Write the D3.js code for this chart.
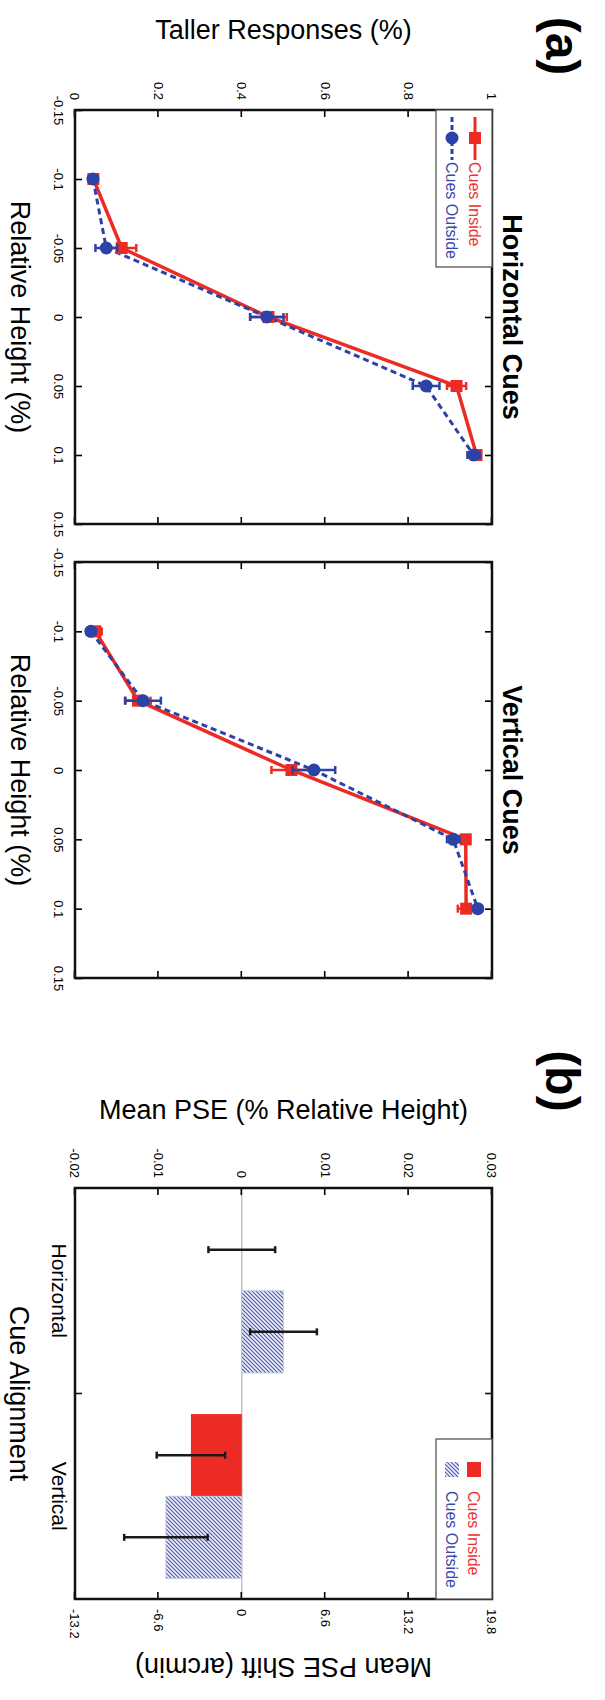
<!DOCTYPE html>
<html lang="en">
<head>
<meta charset="utf-8">
<title>Relative height judgements - horizontal and vertical cues</title>
<style>
  body { margin: 0; background: #fff; }
  svg { display: block; }
</style>
</head>
<body>
<div id="chart"></div>
<script src="https://d3js.org/d3.v7.min.js"></script>
<script>
// ---- data ----
var relHeights = [-0.1, -0.05, 0, 0.05, 0.1];
var xTicks = [-0.15, -0.1, -0.05, 0, 0.05, 0.1, 0.15];
var xTickLabels = ["-0.15", "-0.1", "-0.05", "0", "0.05", "0.1", "0.15"];
var yTicks = [0, 0.2, 0.4, 0.6, 0.8, 1];
var yTickLabels = ["0", "0.2", "0.4", "0.6", "0.8", "1"];

var horizInside     = [0.044, 0.112, 0.464, 0.915, 0.963];
var horizInsideErr  = [0.010, 0.035, 0.044, 0.023, 0.010];
var horizOutside    = [0.043, 0.075, 0.460, 0.842, 0.956];
var horizOutsideErr = [0.010, 0.026, 0.040, 0.032, 0.015];

var vertInside      = [0.049, 0.151, 0.519, 0.937, 0.938];
var vertInsideErr   = [0.015, 0.030, 0.048, 0.010, 0.020];
var vertOutside     = [0.038, 0.163, 0.573, 0.907, 0.966];
var vertOutsideErr  = [0.010, 0.043, 0.051, 0.015, 0.010];

var cueAlignment  = ["Horizontal", "Vertical"];
var pseInside     = [0.0000, -0.0061];
var pseInsideErr  = [0.0040, 0.0041];
var pseOutside    = [0.0050, -0.0091];
var pseOutsideErr = [0.0040, 0.0050];
var pseTicks = [-0.02, -0.01, 0, 0.01, 0.02, 0.03];
var pseTickLabels = ["-0.02", "-0.01", "0", "0.01", "0.02", "0.03"];
var arcminTicks = [-13.2, -6.6, 0, 6.6, 13.2, 19.8];
var arcminTickLabels = ["-13.2", "-6.6", "0", "6.6", "13.2", "19.8"];

var seriesNames = ["Cues Inside", "Cues Outside"];

// ---- layout ----
var pageW = 605, pageH = 1700;
var yTop = 113, yBot = 530;      // value direction, before the figure is turned
var red = "#ec2b24", blue = "#2b43a6";
var redText = "#ee3030", blueText = "#3a4aab";
var fontFam = '"Liberation Sans", Arial, Helvetica, sans-serif';

var svg = d3.select("#chart").append("svg")
  .attr("width", pageW)
  .attr("height", pageH)
  .attr("font-family", fontFam);

var defs = svg.append("defs");
var hatch = defs.append("pattern")
  .attr("id", "hatch")
  .attr("patternUnits", "userSpaceOnUse")
  .attr("width", 4)
  .attr("height", 4);
hatch.append("rect").attr("width", 4).attr("height", 4).attr("fill", "#eceefa");
hatch.append("path")
  .attr("d", "M-1,1 l2,-2 M0,4 l4,-4 M3,5 l2,-2")
  .attr("stroke", "#4c57b4")
  .attr("stroke-width", 1.1);

// the whole figure lies on its side: draw it upright, then turn it 90deg clockwise
var fig = svg.append("g")
  .attr("transform", "translate(" + pageW + ",0) rotate(90)");

function styleAxis(a, size) {
  a.attr("font-family", fontFam).attr("font-size", size);
  a.select(".domain").remove();
  a.selectAll(".tick line").attr("stroke-width", 1.6);
}

function errorBar(g, x, lo, hi, color, cap, width) {
  g.append("line").attr("x1", x).attr("x2", x).attr("y1", lo).attr("y2", hi)
    .attr("stroke", color).attr("stroke-width", width);
  [lo, hi].forEach(function(v) {
    g.append("line").attr("x1", x - cap / 2).attr("x2", x + cap / 2).attr("y1", v).attr("y2", v)
      .attr("stroke", color).attr("stroke-width", width);
  });
}

var yResp = d3.scaleLinear().domain([0, 1]).range([yBot, yTop]);

function drawPanel(x0, x1, title, inside, insideErr, outside, outsideErr, withYLabels, withLegend) {
  var x = d3.scaleLinear().domain([-0.15, 0.15]).range([x0, x1]);
  var g = fig.append("g");

  g.append("g").attr("transform", "translate(0," + yBot + ")")
    .call(d3.axisBottom(x).tickValues(xTicks).tickSize(-7).tickPadding(12)
      .tickFormat(function(d, i) { return xTickLabels[i]; }))
    .call(styleAxis, 13);
  g.append("g").attr("transform", "translate(0," + yTop + ")")
    .call(d3.axisTop(x).tickValues(xTicks).tickSize(-7).tickFormat(""))
    .call(styleAxis, 13);
  g.append("g").attr("transform", "translate(" + x0 + ",0)")
    .call(d3.axisLeft(yResp).tickValues(yTicks).tickSize(-7).tickPadding(10)
      .tickFormat(function(d, i) { return withYLabels ? yTickLabels[i] : ""; }))
    .call(styleAxis, 13);
  g.append("g").attr("transform", "translate(" + x1 + ",0)")
    .call(d3.axisRight(yResp).tickValues(yTicks).tickSize(-7).tickFormat(""))
    .call(styleAxis, 13);

  g.append("rect")
    .attr("x", x0).attr("y", yTop)
    .attr("width", x1 - x0).attr("height", yBot - yTop)
    .attr("fill", "none").attr("stroke", "#111").attr("stroke-width", 2.5);

  var line = d3.line()
    .x(function(d, i) { return x(relHeights[i]); })
    .y(function(d) { return yResp(d); });

  g.append("path").attr("d", line(inside))
    .attr("fill", "none").attr("stroke", red).attr("stroke-width", 3.5);
  g.append("path").attr("d", line(outside))
    .attr("fill", "none").attr("stroke", blue).attr("stroke-width", 3)
    .attr("stroke-dasharray", "6,4");

  inside.forEach(function(v, i) {
    errorBar(g, x(relHeights[i]), yResp(v - insideErr[i]), yResp(v + insideErr[i]), red, 8, 2.5);
    g.append("rect")
      .attr("x", x(relHeights[i]) - 6).attr("y", yResp(v) - 6)
      .attr("width", 12).attr("height", 12).attr("fill", red);
  });
  outside.forEach(function(v, i) {
    errorBar(g, x(relHeights[i]), yResp(v - outsideErr[i]), yResp(v + outsideErr[i]), blue, 8, 2.5);
    g.append("circle")
      .attr("cx", x(relHeights[i])).attr("cy", yResp(v)).attr("r", 6.5).attr("fill", blue);
  });

  g.append("text")
    .attr("x", (x0 + x1) / 2).attr("y", 102)
    .attr("text-anchor", "middle")
    .attr("font-size", 27).attr("font-weight", "bold")
    .text(title);

  g.append("text")
    .attr("x", (x0 + x1) / 2).attr("y", 594)
    .attr("text-anchor", "middle")
    .attr("font-size", 27)
    .text("Relative Height (%)");

  if (withLegend) {
    var lg = g.append("g");
    lg.append("rect")
      .attr("x", x0).attr("y", yTop)
      .attr("width", 157).attr("height", 56)
      .attr("fill", "#fff").attr("stroke", "#555").attr("stroke-width", 1.3);
    [0, 1].forEach(function(k) {
      var yy = k === 0 ? 130 : 153;
      var col = k === 0 ? red : blue;
      lg.append("line")
        .attr("x1", x0 + 7).attr("x2", x0 + 50).attr("y1", yy).attr("y2", yy)
        .attr("stroke", col).attr("stroke-width", 3)
        .attr("stroke-dasharray", k === 0 ? null : "5,3");
      if (k === 0) {
        lg.append("rect").attr("x", x0 + 22).attr("y", yy - 6)
          .attr("width", 12).attr("height", 12).attr("fill", col);
      } else {
        lg.append("circle").attr("cx", x0 + 28).attr("cy", yy).attr("r", 6.5).attr("fill", col);
      }
      lg.append("text")
        .attr("x", x0 + 52).attr("y", yy).attr("dy", "0.35em")
        .attr("font-size", 16).attr("fill", k === 0 ? redText : blueText)
        .text(seriesNames[k]);
    });
  }
}

drawPanel(110, 524, "Horizontal Cues", horizInside, horizInsideErr, horizOutside, horizOutsideErr, true, true);
drawPanel(562, 978, "Vertical Cues", vertInside, vertInsideErr, vertOutside, vertOutsideErr, false, false);

fig.append("text")
  .attr("transform", "translate(30," + (yTop + yBot) / 2 + ") rotate(-90)")
  .attr("text-anchor", "middle").attr("dy", "0.35em")
  .attr("font-size", 27)
  .text("Taller Responses (%)");

fig.append("text")
  .attr("x", 46).attr("y", 42).attr("dy", "0.35em")
  .attr("text-anchor", "middle")
  .attr("font-size", 48).attr("font-weight", "bold")
  .text("(a)");

// ---- panel (b): mean PSE bars ----
var b0 = 1188, b1 = 1599;
var band = d3.scaleBand().domain(cueAlignment).range([b0, b1]);
var sub = d3.scaleBand().domain(["inside", "outside"]).range([0, band.bandwidth()]).paddingOuter(0.25);
var pse = d3.scaleLinear().domain([-0.02, 0.03]).range([yBot, yTop]);
var arcmin = d3.scaleLinear().domain([-13.2, 19.8]).range([yBot, yTop]);

var gb = fig.append("g");

gb.append("line")
  .attr("x1", b0).attr("x2", b1).attr("y1", pse(0)).attr("y2", pse(0))
  .attr("stroke", "#b5b5b5").attr("stroke-width", 1.2);

cueAlignment.forEach(function(c, i) {
  var xi = band(c) + sub("inside"), xo = band(c) + sub("outside");
  gb.append("rect")
    .attr("x", xi).attr("width", sub.bandwidth())
    .attr("y", Math.min(pse(pseInside[i]), pse(0)))
    .attr("height", Math.abs(pse(pseInside[i]) - pse(0)))
    .attr("fill", red);
  gb.append("rect")
    .attr("x", xo).attr("width", sub.bandwidth())
    .attr("y", Math.min(pse(pseOutside[i]), pse(0)))
    .attr("height", Math.abs(pse(pseOutside[i]) - pse(0)))
    .attr("fill", "url(#hatch)").attr("stroke", "#c4c6d8").attr("stroke-width", 0.8);
});
cueAlignment.forEach(function(c, i) {
  var ci = band(c) + sub("inside") + sub.bandwidth() / 2;
  var co = band(c) + sub("outside") + sub.bandwidth() / 2;
  errorBar(gb, ci, pse(pseInside[i] - pseInsideErr[i]), pse(pseInside[i] + pseInsideErr[i]), "#1a1a1a", 7, 2.5);
  errorBar(gb, co, pse(pseOutside[i] - pseOutsideErr[i]), pse(pseOutside[i] + pseOutsideErr[i]), "#1a1a1a", 7, 2.5);
});

gb.append("g").attr("transform", "translate(" + b0 + ",0)")
  .call(d3.axisLeft(pse).tickValues(pseTicks).tickSize(-7).tickPadding(10)
    .tickFormat(function(d, i) { return pseTickLabels[i]; }))
  .call(styleAxis, 13);
gb.append("g").attr("transform", "translate(" + b1 + ",0)")
  .call(d3.axisRight(arcmin).tickValues(arcminTicks).tickSize(-7).tickPadding(10)
    .tickFormat(function(d, i) { return arcminTickLabels[i]; }))
  .call(styleAxis, 13);
gb.append("g").attr("transform", "translate(0," + yBot + ")")
  .call(d3.axisBottom(band).tickSize(0).tickPadding(8))
  .call(styleAxis, 21);

// tick between the two categories, top and bottom
[yBot, yTop].forEach(function(yy) {
  gb.append("line")
    .attr("x1", band("Vertical")).attr("x2", band("Vertical"))
    .attr("y1", yy).attr("y2", yy === yBot ? yy - 7 : yy + 7)
    .attr("stroke", "#111").attr("stroke-width", 1.6);
});

gb.append("rect")
  .attr("x", b0).attr("y", yTop)
  .attr("width", b1 - b0).attr("height", yBot - yTop)
  .attr("fill", "none").attr("stroke", "#111").attr("stroke-width", 2.5);

// legend (b)
var lb = gb.append("g");
lb.append("rect")
  .attr("x", 1439).attr("y", yTop)
  .attr("width", b1 - 1439).attr("height", 56)
  .attr("fill", "#fff").attr("stroke", "#555").attr("stroke-width", 1.3);
lb.append("rect").attr("x", 1462).attr("y", 124).attr("width", 15).attr("height", 14).attr("fill", red);
lb.append("rect").attr("x", 1462).attr("y", 146).attr("width", 15).attr("height", 14).attr("fill", "url(#hatch)");
lb.append("text").attr("x", 1491).attr("y", 131).attr("dy", "0.35em")
  .attr("font-size", 16).attr("fill", redText).text(seriesNames[0]);
lb.append("text").attr("x", 1491).attr("y", 153).attr("dy", "0.35em")
  .attr("font-size", 16).attr("fill", blueText).text(seriesNames[1]);

fig.append("text")
  .attr("transform", "translate(1110," + (yTop + yBot) / 2 + ") rotate(-90)")
  .attr("text-anchor", "middle").attr("dy", "0.35em")
  .attr("font-size", 27)
  .text("Mean PSE (% Relative Height)");

fig.append("text")
  .attr("transform", "translate(1667," + (yTop + yBot) / 2 + ") rotate(90)")
  .attr("text-anchor", "middle").attr("dy", "0.35em")
  .attr("font-size", 27)
  .text("Mean PSE Shift (arcmin)");

fig.append("text")
  .attr("x", (b0 + b1) / 2).attr("y", 595)
  .attr("text-anchor", "middle")
  .attr("font-size", 27)
  .text("Cue Alignment");

fig.append("text")
  .attr("x", 1081).attr("y", 42).attr("dy", "0.35em")
  .attr("text-anchor", "middle")
  .attr("font-size", 48).attr("font-weight", "bold")
  .text("(b)");
</script>
</body>
</html>
